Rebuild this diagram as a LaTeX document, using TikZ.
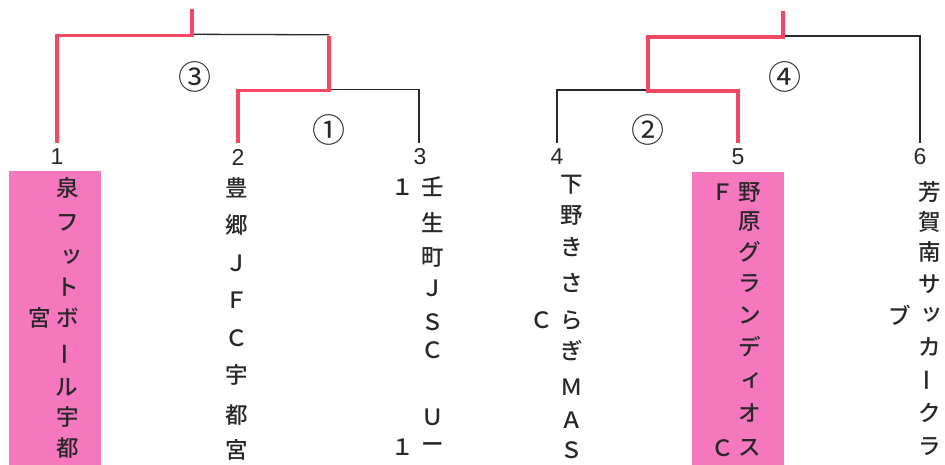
\documentclass[tikz,border=0pt]{standalone}
\usepackage{fontspec}
\newfontfamily\jp{Noto Sans CJK JP Medium}
\newfontfamily\jpc{Noto Sans CJK JP}
\newfontfamily\digits{Liberation Sans}
\definecolor{winred}{RGB}{243,72,100}
\definecolor{boxpink}{RGB}{245,120,190}
\definecolor{ink}{RGB}{40,40,40}
\tikzset{
  win/.style={draw=winred, line width=3.5pt, line join=miter},
  lose/.style={draw=ink, line width=1.3pt},
  ch/.style={font=\jp\fontsize{22.5}{22.5}\selectfont, inner sep=0pt, text=ink},
  num/.style={font=\digits\fontsize{23}{23}\selectfont, inner sep=0pt, text=ink},
  circ/.style={font=\jpc\fontsize{33}{33}\selectfont, inner sep=0pt, text=ink},
  hibox/.style={fill=boxpink, draw=none, inner sep=0pt, anchor=north west},
  turned/.style={rotate=90},
  plain/.style={}
}
\begin{document}
\begin{tikzpicture}[x=1pt, y=-1pt]
\useasboundingbox (0,0) rectangle (945,465);
% highlight boxes
\node[hibox, minimum width=92pt, minimum height=294pt] (box1) at (9,171) {};
\node[hibox, minimum width=92pt, minimum height=293pt] (box5) at (692,172) {};
% team entry points
\coordinate (t1) at (57,143);
\coordinate (t2) at (238,143);
\coordinate (t3) at (419,143);
\coordinate (t4) at (557,143);
\coordinate (t5) at (738,143);
\coordinate (t6) at (920,143);
% junctions
\coordinate (j1) at (329,90.5);
\coordinate (c3r) at (329,36);
\coordinate (j3) at (192,35.5);
\coordinate (top3) at (192,9);
\coordinate (j2) at (648,91);
\coordinate (c4l) at (648,37);
\coordinate (j4) at (783,37);
\coordinate (top4) at (783,11);
% losing lines
\draw[lose] ([yshift=1pt]j1) -| (t3);
\draw[lose] ([yshift=1.2pt]j3) -- ([yshift=1.2pt]c3r);
\draw[lose] ([yshift=1pt]j2) -| (t4);
\draw[lose] ([yshift=1pt]j4) -| (t6);
% winning lines
\draw[win] (t1) |- (j3) -- (top3);
\draw[win] (t2) |- (j1) -- (c3r);
\draw[win] (t5) |- (j2) -- (c4l) -- (j4) -- (top4);
% match numbers
\node[circ] (m3) at (195,77) {③};
\node[circ] (m1) at (329,130) {①};
\node[circ] (m4) at (785,77) {④};
\node[circ] (m2) at (648,130) {②};
% seed numbers
\node[num] (n1) at (57,157) {1};
\node[num] (n2) at (238,157) {2};
\node[num] (n3) at (420,157) {3};
\node[num] (n4) at (557,157) {4};
\node[num] (n5) at (738,157) {5};
\node[num] (n6) at (920,157) {6};
% team 1
\foreach \c/\x/\y/\o [count=\i] in {泉/68/188/plain, フ/68/223/plain, ッ/72/257/plain, ト/68/287/plain, ボ/68/318/plain, ー/68/354/turned, ル/67/387/plain, 宇/68/417/plain, 都/68/448/plain, 宮/40/318/plain}
  \node[ch,\o] (a\i) at (\x,\y) {\c};
% team 2
\foreach \c/\y [count=\i] in {豊/188, 郷/225, Ｊ/263, Ｆ/300, Ｃ/338, 宇/375, 都/415, 宮/450}
  \node[ch] (b\i) at (237,\y) {\c};
% team 3
\foreach \c/\x/\y [count=\i] in {壬/433/187, 生/433/223, 町/433/257, Ｊ/433/288, Ｓ/433/322, Ｃ/433/350, Ｕ/433/417, ー/433/447, １/403/187, １/403/447}
  \node[ch] (c\i) at (\x,\y) {\c};
% team 4
\foreach \c/\x/\y [count=\i] in {下/572/185, 野/572/215, き/572/247, さ/572/283, ら/572/320, ぎ/572/351, Ｍ/572/387, Ａ/572/420, Ｓ/572/450, Ｃ/542/320}
  \node[ch] (d\i) at (\x,\y) {\c};
% team 5
\foreach \c/\x/\y [count=\i] in {野/750/192, 原/750/222, グ/750/252, ラ/750/284, ン/750/315, デ/750/347, ィ/752/380, オ/750/413, ス/750/448, Ｆ/723/192, Ｃ/723/448}
  \node[ch] (e\i) at (\x,\y) {\c};
% team 6
\foreach \c/\x/\y/\o [count=\i] in {芳/930/192/plain, 賀/930/222/plain, 南/930/252/plain, サ/930/284/plain, ッ/932/315/plain, カ/930/347/plain, ー/930/380/turned, ク/930/413/plain, ラ/930/447/plain, ブ/900/315/plain}
  \node[ch,\o] (f\i) at (\x,\y) {\c};
\end{tikzpicture}
\end{document}
